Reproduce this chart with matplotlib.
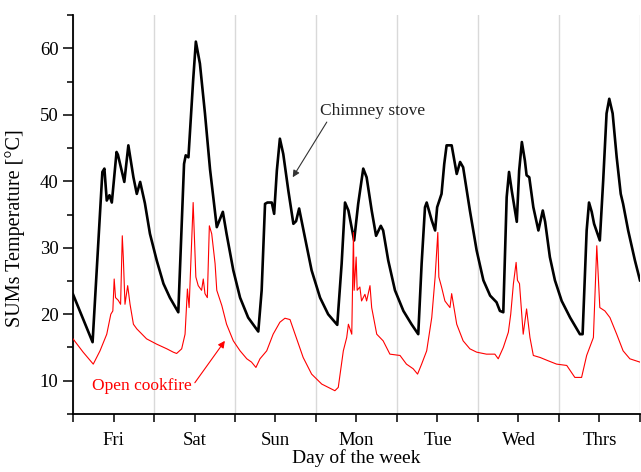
import matplotlib.pyplot as plt
from matplotlib.ticker import MultipleLocator, FixedLocator, NullFormatter, FixedFormatter

plt.rcParams['font.family'] = ['Liberation Serif', 'DejaVu Serif']
plt.rcParams['font.size'] = 12.5

days = ["Fri", "Sat", "Sun", "Mon", "Tue", "Wed", "Thrs"]

# hours since Friday 00:00, SUMs temperature in degC
stove_hours = [0.0, 5.8, 8.7, 9.3, 10.0, 10.8, 11.5, 12.9, 13.3, 15.2, 16.4, 17.9, 18.9,
               19.9, 21.3, 22.8, 24.8, 26.8, 28.7, 31.2, 32.9, 33.4, 34.2, 35.6, 36.4,
               37.6, 39.1, 40.6, 42.6, 44.4, 45.5, 47.5, 49.5, 51.9, 54.9, 55.9, 56.9,
               57.6, 58.9, 59.6, 60.4, 61.3, 62.3, 63.8, 65.3, 66.1, 67.0, 68.7, 70.7,
               73.2, 75.6, 78.3, 79.6, 80.6, 81.6, 83.3, 84.5, 86.0, 87.0, 88.5, 89.8,
               91.2, 91.9, 93.4, 95.4, 97.9, 100.3, 102.3, 103.3, 104.3, 104.8, 106.3,
               107.3, 107.9, 109.2, 110.0, 110.7, 112.2, 113.7, 114.7, 115.6, 117.6,
               119.6, 121.6, 123.6, 125.5, 126.5, 127.5, 128.5, 129.2, 130.0, 131.5,
               132.2, 133.0, 133.9, 134.4, 135.2, 136.4, 137.9, 139.2, 139.9, 141.3,
               142.8, 144.8, 147.3, 150.2, 151.0, 152.2, 152.9, 153.7, 154.4, 156.1,
               157.1, 158.1, 158.9, 159.9, 161.1, 162.3, 163.0, 164.5, 166.5, 168.0]
stove_temp = [23.0, 15.8, 41.4, 41.9, 37.1, 37.9, 36.8, 44.4, 44.0, 39.9, 45.4, 40.6, 38.1,
              39.9, 36.7, 32.1, 28.1, 24.6, 22.5, 20.3, 42.6, 43.9, 43.6, 55.2, 61.0,
              57.7, 50.2, 41.8, 33.1, 35.4, 32.1, 26.6, 22.5, 19.5, 17.4, 23.6, 36.6,
              36.8, 36.8, 35.1, 41.6, 46.4, 44.1, 38.6, 33.6, 34.0, 35.9, 31.6, 26.6,
              22.5, 20.0, 18.4, 27.6, 36.8, 35.6, 31.1, 36.6, 41.9, 40.6, 35.6, 31.8,
              33.3, 32.6, 28.1, 23.6, 20.5, 18.5, 17.0, 27.6, 36.1, 36.8, 34.1,
              32.6, 36.1, 38.1, 42.6, 45.4, 45.4, 41.1, 42.9, 42.1, 35.6,
              29.6, 25.1, 22.8, 21.8, 20.5, 20.3, 37.6, 41.4, 38.6, 33.9,
              41.6, 45.9, 43.1, 40.9, 40.6, 36.1, 32.6, 35.6, 33.9, 28.6,
              25.1, 22.0, 19.5, 17.0, 17.0, 32.6, 36.8, 35.4, 33.6, 31.1,
              40.1, 50.2, 52.4, 50.2, 43.6, 38.1, 36.6, 32.6, 28.1, 25.1]

fire_hours = [0.0, 3.0, 6.0, 8.0, 10.0, 11.2, 11.8, 12.2, 12.6, 13.4, 14.1, 14.6, 14.9,
              15.4, 16.2, 16.9, 17.9, 18.9, 21.8, 24.8, 27.8, 29.7, 30.7, 32.2, 33.2,
              33.9, 34.4, 35.6, 36.4, 37.1, 38.1, 38.6, 39.1, 39.8, 40.4, 41.1, 42.1,
              42.6, 44.1, 45.5, 47.5, 49.5, 51.5, 52.9, 54.2, 55.4, 57.4, 59.3, 61.3,
              62.8, 64.3, 65.8, 68.2, 70.7, 73.7, 77.6, 78.6, 80.1, 81.1, 81.6, 82.6,
              83.1, 83.3, 83.9, 84.2, 85.0, 85.5, 86.5, 87.0, 88.0, 88.5, 90.0, 91.9,
              93.9, 96.9, 98.8, 100.8, 102.1, 103.3, 104.8, 106.3, 107.3, 108.1, 108.4,
              109.2, 110.2, 111.7, 112.2, 113.7, 115.6, 117.6, 119.6, 122.5, 125.0,
              126.0, 127.5, 129.0, 129.7, 130.5, 131.3, 131.7, 132.3, 133.4, 134.4,
              135.4, 136.4, 138.4, 140.8, 143.3, 146.3, 148.7, 150.7, 152.2, 154.2,
              155.2, 156.1, 157.6, 159.1, 161.1, 163.0, 165.0, 168.0]
fire_temp = [16.3, 14.3, 12.5, 14.5, 17.0, 20.0, 20.5, 25.3, 22.5, 22.1, 21.5, 31.8, 28.6,
             21.5, 24.3, 21.5, 18.5, 17.8, 16.3, 15.5, 14.8, 14.3, 14.1, 14.8, 17.0,
             23.8, 21.0, 36.8, 25.6, 24.3, 23.6, 25.3, 23.1, 22.5, 33.3, 32.1, 27.6,
             23.6, 21.3, 18.5, 16.0, 14.5, 13.3, 12.8, 12.0, 13.3, 14.5, 17.0, 18.8,
             19.4, 19.2, 17.0, 13.5, 11.0, 9.5, 8.5, 9.0, 14.5, 16.5, 18.5, 17.0,
             32.3, 23.6, 28.6, 23.6, 24.1, 22.0, 23.0, 22.0, 24.3, 21.0, 17.0, 16.0,
             14.0, 13.8, 12.5, 11.8, 11.0, 12.5, 14.5, 19.5, 25.6, 32.3, 25.6,
             24.1, 22.0, 21.0, 23.1, 18.5, 16.0, 14.8, 14.3, 14.0, 14.0,
             13.3, 15.0, 17.3, 20.0, 24.6, 27.8, 25.1, 24.6, 17.0, 20.8,
             16.5, 13.8, 13.5, 13.0, 12.5, 12.3, 10.5, 10.5, 13.8, 16.5,
             30.3, 21.0, 20.5, 19.5, 17.0, 14.5, 13.3, 12.8]

fig = plt.figure(figsize=(6.41, 4.72), dpi=100)
ax = fig.add_axes([0.1139, 0.1229, 0.8845, 0.8453])

ax.plot(stove_hours, stove_temp, color='black', lw=1.9, solid_joinstyle='round', zorder=3)
ax.plot(fire_hours, fire_temp, color='#ff0000', lw=0.8, zorder=3)

ax.set_xlim(0, 168)
ax.set_ylim(5, 65)

# day boundaries carry the grid, day centres carry the labels
ax.xaxis.set_major_locator(MultipleLocator(24))
ax.xaxis.set_major_formatter(NullFormatter())
ax.xaxis.set_minor_locator(FixedLocator([12 + 24 * i for i in range(len(days))]))
ax.xaxis.set_minor_formatter(FixedFormatter(days))
ax.yaxis.set_major_locator(MultipleLocator(10))
ax.yaxis.set_minor_locator(MultipleLocator(5))

ax.tick_params(axis='x', which='both', length=6, width=1.1, direction='out', pad=7,
               labelsize=13.5)
ax.tick_params(axis='y', which='major', length=7, width=1.1, direction='out', labelsize=13.5)
ax.tick_params(axis='y', which='minor', length=4, width=1.1, direction='out')
ax.grid(True, axis='x', which='major', color='#d9d9d9', lw=1.0)

for side in ['top', 'right']:
    ax.spines[side].set_visible(False)
for side in ['left', 'bottom']:
    ax.spines[side].set_linewidth(1.3)

ax.set_xlabel("Day of the week", fontsize=14)
ax.xaxis.set_label_coords(0.5, -0.088)
ax.set_ylabel("SUMs Temperature [°C]", fontsize=14.5)
ax.yaxis.set_label_coords(-0.085, 0.466)

ax.text(73.2, 49.3, "Chimney stove", color='#222222', ha='left', va='bottom')
ax.annotate('', xy=(65.1, 40.6), xytext=(75.2, 48.9),
            arrowprops=dict(arrowstyle='-|>', color='#333333', lw=0.8,
                            mutation_scale=10, shrinkA=0, shrinkB=0))

ax.text(5.5, 9.25, "Open cookfire", color='#ff0000', ha='left', va='center')
ax.annotate('', xy=(45.0, 16.0), xytext=(36.1, 9.7),
            arrowprops=dict(arrowstyle='-|>', color='#ff0000', lw=0.8,
                            mutation_scale=10, shrinkA=0, shrinkB=0))

fig.savefig("out.png", dpi=100)
